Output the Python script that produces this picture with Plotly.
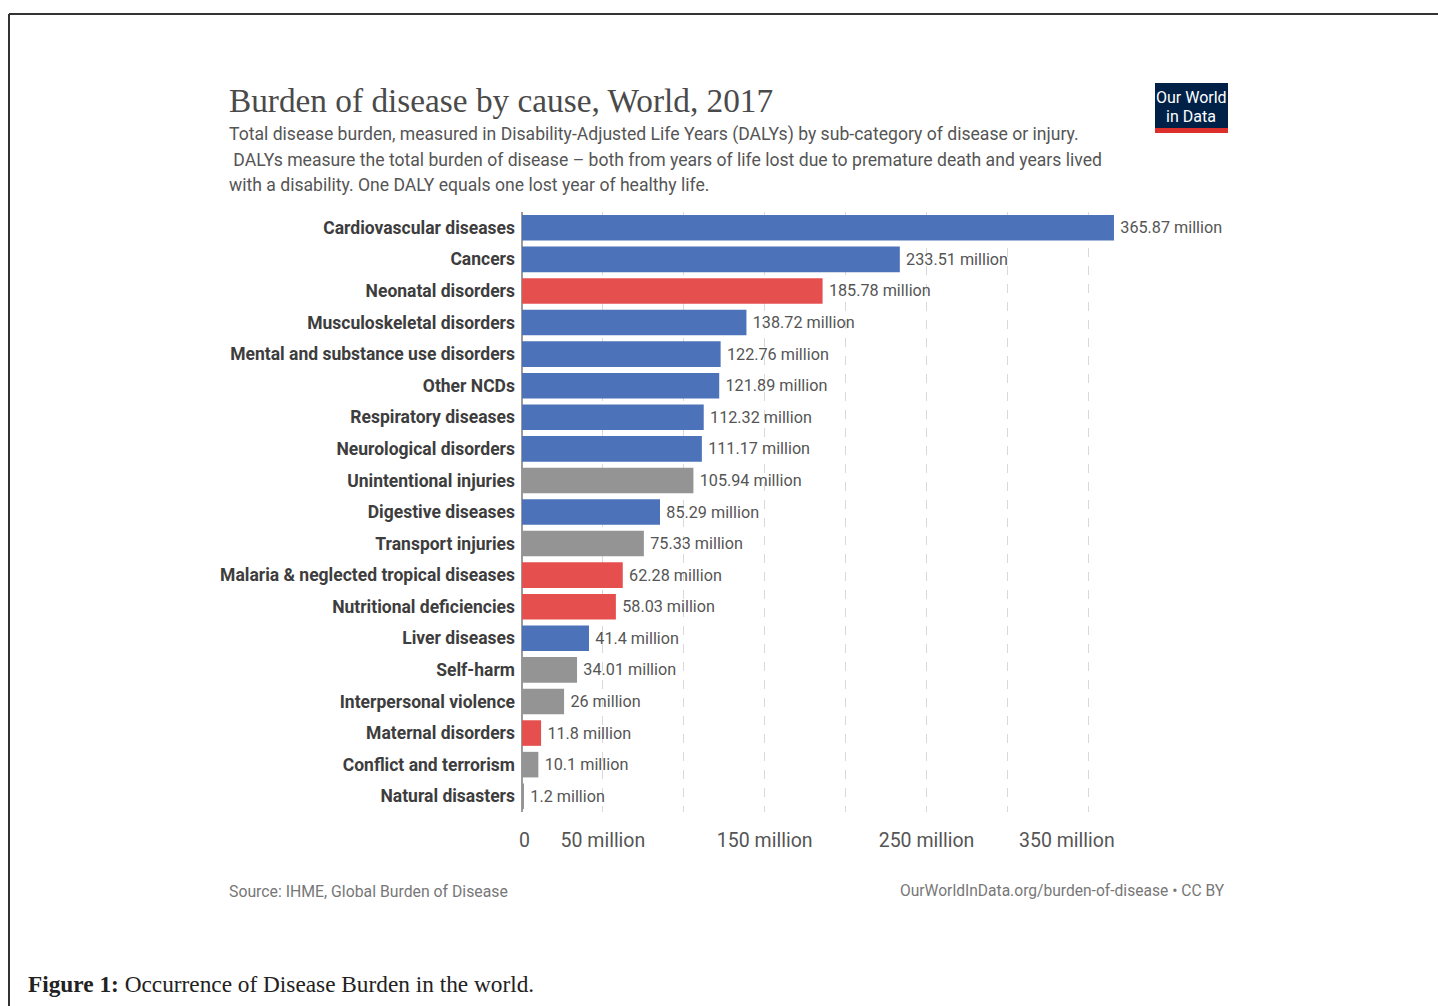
import plotly.graph_objects as go

# ---- data ----
categories = [
    "Cardiovascular diseases", "Cancers", "Neonatal disorders", "Musculoskeletal disorders",
    "Mental and substance use disorders", "Other NCDs", "Respiratory diseases",
    "Neurological disorders", "Unintentional injuries", "Digestive diseases",
    "Transport injuries", "Malaria & neglected tropical diseases", "Nutritional deficiencies",
    "Liver diseases", "Self-harm", "Interpersonal violence", "Maternal disorders",
    "Conflict and terrorism", "Natural disasters",
]
values = [365.87, 233.51, 185.78, 138.72, 122.76, 121.89, 112.32, 111.17, 105.94,
          85.29, 75.33, 62.28, 58.03, 41.4, 34.01, 26, 11.8, 10.1, 1.2]
groups = ["ncd", "ncd", "comm", "ncd", "ncd", "ncd", "ncd", "ncd", "inj",
          "ncd", "inj", "comm", "comm", "ncd", "inj", "inj", "comm", "inj", "inj"]
tick_vals = [0, 50, 100, 150, 200, 250, 300, 350]
tick_text = ["&nbsp;0", "50 million", "", "150 million", "", "250 million", "", ""]
last_tick_val = 350
last_tick_text = "350 million"

group_colors = {"ncd": "#4C73B9", "comm": "#E5504F", "inj": "#949494"}
bar_colors = [group_colors[g] for g in groups]
labels = [f"\u2009{v:g} million" for v in values]

W, H = 1438, 1006
L, R, T, B = 522, 308, 212, 194
PW, PH = W - L - R, H - T - B
SCALE = 1.618  # px per million


def xp(px):
    return (px - L) / PW


def yp(py):
    return (H - B - py) / PH


fig = go.Figure()
fig.add_trace(go.Bar(
    x=values, y=categories, orientation="h",
    marker=dict(color=bar_colors, line=dict(width=0)),
    text=labels, textposition="outside", cliponaxis=False,
    textfont=dict(family="Roboto", size=16.2, color="#555555"),
    hoverinfo="skip",
))

fig.update_layout(
    width=W, height=H, autosize=False,
    margin=dict(l=L, r=R, t=T, b=B),
    paper_bgcolor="white", plot_bgcolor="white",
    showlegend=False, bargap=0.19,
    xaxis=dict(
        range=[0, PW / SCALE], tickvals=tick_vals, ticktext=tick_text,
        showgrid=True, gridcolor="#d9d9d9", griddash="dash", gridwidth=1,
        zeroline=True, zerolinecolor="#9a9a9a", zerolinewidth=1.5,
        showline=False, ticks="", ticklabelstandoff=14,
        tickfont=dict(family="Roboto", size=19.5, color="#555555"),
        fixedrange=True,
    ),
    yaxis=dict(
        autorange="reversed", showgrid=False, showline=False, ticks="",
        ticklabelstandoff=6,
        tickfont=dict(family="Roboto", size=17.5, color="#3d3d3d", weight="bold"),
        fixedrange=True,
    ),
)

ann = []
# last x tick label, pulled inward as in the original
ann.append(dict(text=last_tick_text, x=last_tick_val, xref="x", xshift=-21,
                y=yp(840), yref="paper", xanchor="center", yanchor="middle",
                font=dict(family="Roboto", size=19.5, color="#555555"), showarrow=False))
# title
ann.append(dict(text="Burden of disease by cause, World, 2017", x=xp(227), y=yp(101),
                xanchor="left", yanchor="middle",
                font=dict(family="Liberation Serif", size=33.3, color="#4a4a4a")))
sub = ["Total disease burden, measured in Disability-Adjusted Life Years (DALYs) by sub-category of disease or injury.",
       " DALYs measure the total burden of disease \u2013 both from years of life lost due to premature death and years lived",
       "with a disability. One DALY equals one lost year of healthy life."]
for i, s in enumerate(sub):
    ann.append(dict(text=s.replace(" ", "&nbsp;", 1) if s.startswith(" ") else s,
                    x=xp(227), y=yp(135 + 25 * i), xanchor="left", yanchor="middle",
                    font=dict(family="Roboto", size=17.6, color="#555555")))
# logo text
ann.append(dict(text="Our World", x=xp(1191), y=yp(97), xanchor="center", yanchor="middle",
                font=dict(family="Roboto", size=16, color="white")))
ann.append(dict(text="in Data", x=xp(1191), y=yp(116), xanchor="center", yanchor="middle",
                font=dict(family="Roboto", size=16, color="white")))
# footer
ann.append(dict(text="Source: IHME, Global Burden of Disease", x=xp(227), y=yp(891),
                xanchor="left", yanchor="middle",
                font=dict(family="Roboto", size=15.8, color="#777777")))
ann.append(dict(text="OurWorldInData.org/burden-of-disease \u2022 CC BY", x=xp(1227), y=yp(891),
                xanchor="right", yanchor="middle",
                font=dict(family="Roboto", size=15.6, color="#777777")))
# caption
ann.append(dict(text="<b>Figure 1:</b> Occurrence of Disease Burden in the world.", x=xp(26), y=yp(984),
                xanchor="left", yanchor="middle",
                font=dict(family="Liberation Serif", size=23.3, color="#222222")))
for a in ann:
    a.setdefault("xref", "paper")
    a.setdefault("yref", "paper")
    a["showarrow"] = False
fig.update_layout(annotations=ann)

shapes = [
    # logo
    dict(type="rect", x0=xp(1155), x1=xp(1228), y0=yp(83), y1=yp(128),
         fillcolor="#002147", line=dict(width=0)),
    dict(type="rect", x0=xp(1155), x1=xp(1228), y0=yp(128), y1=yp(133),
         fillcolor="#DC2E2B", line=dict(width=0)),
    # page border
    dict(type="line", x0=xp(9), x1=xp(1440), y0=yp(14), y1=yp(14),
         line=dict(color="#333333", width=2)),
    dict(type="line", x0=xp(9), x1=xp(9), y0=yp(14), y1=yp(1010),
         line=dict(color="#333333", width=2)),
]
for s in shapes:
    s.update(xref="paper", yref="paper", layer="above")
fig.update_layout(shapes=shapes)

fig.write_html("out.html")
